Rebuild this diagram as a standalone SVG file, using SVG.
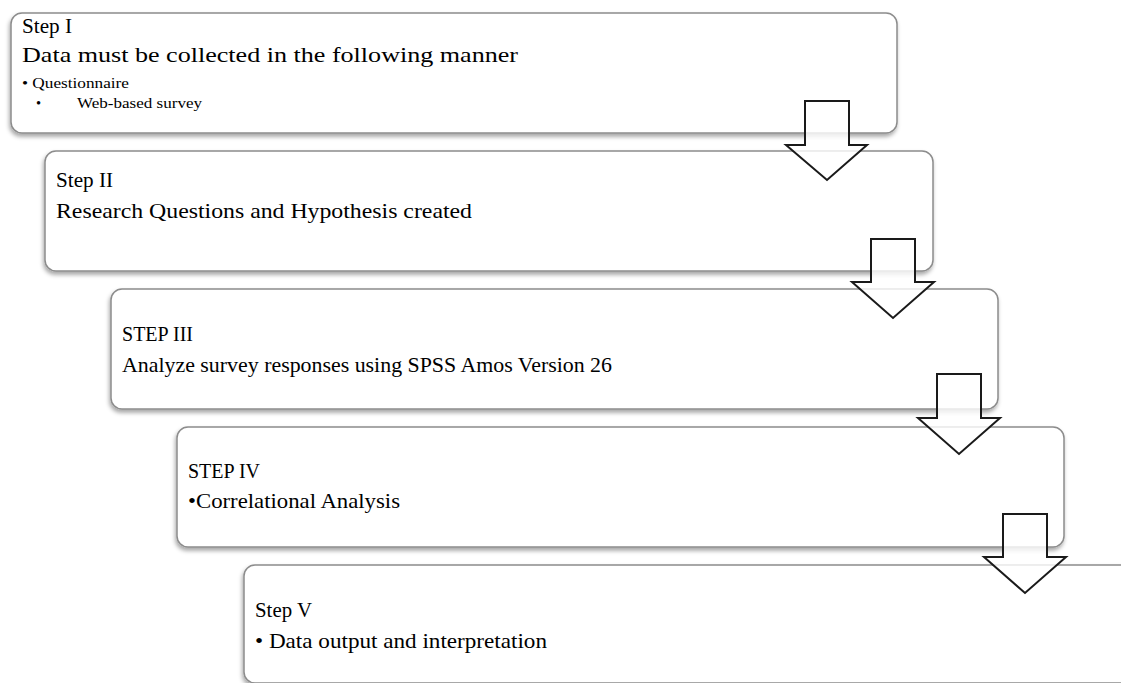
<svg xmlns="http://www.w3.org/2000/svg" width="1121" height="683" viewBox="0 0 1121 683">
<defs>
<filter id="sh" x="-5%" y="-10%" width="110%" height="125%">
<feDropShadow dx="-1" dy="3" stdDeviation="2" flood-color="#000" flood-opacity="0.35"/>
</filter>
<style>
.box{fill:#fff;stroke:#8c8c8c;stroke-width:1.5;filter:url(#sh)}
.arr{fill:#fff;fill-opacity:0.8;stroke:#1a1a1a;stroke-width:2}
text{font-family:"Liberation Serif","DejaVu Serif",serif;fill:#000}
.t{font-size:21.5px}
.s{font-size:14.5px}
</style>
</defs>
<rect width="1121" height="683" fill="#fff"/>
<g id="step1">
<rect class="box" x="11" y="13" width="886" height="120" rx="11"/>
<text class="t" x="22" y="33" textLength="50" lengthAdjust="spacingAndGlyphs">Step I</text>
<text class="t" x="22" y="62" textLength="496" lengthAdjust="spacingAndGlyphs">Data must be collected in the following manner</text>
<text class="s" x="22" y="88" textLength="107" lengthAdjust="spacingAndGlyphs">• Questionnaire</text>
<text class="s" x="36" y="108">•</text>
<text class="s" x="77" y="108" textLength="125" lengthAdjust="spacingAndGlyphs">Web-based survey</text>
</g>
<g id="step2">
<rect class="box" x="45" y="151" width="888" height="120" rx="11"/>
<text class="t" x="56" y="187" textLength="57" lengthAdjust="spacingAndGlyphs">Step II</text>
<text class="t" x="56" y="218" textLength="416" lengthAdjust="spacingAndGlyphs">Research Questions and Hypothesis created</text>
</g>
<g id="step3">
<rect class="box" x="111" y="289" width="887" height="120" rx="11"/>
<text class="t" x="122" y="341" textLength="71" lengthAdjust="spacingAndGlyphs">STEP III</text>
<text class="t" x="122" y="372" textLength="490" lengthAdjust="spacingAndGlyphs">Analyze survey responses using SPSS Amos Version 26</text>
</g>
<g id="step4">
<rect class="box" x="177" y="427" width="887" height="120" rx="11"/>
<text class="t" x="188" y="478" textLength="72" lengthAdjust="spacingAndGlyphs">STEP IV</text>
<text class="t" x="188" y="508" textLength="212" lengthAdjust="spacingAndGlyphs">•Correlational Analysis</text>
</g>
<g id="step5">
<rect class="box" x="244" y="565" width="900" height="118" rx="11"/>
<text class="t" x="255" y="617" textLength="57" lengthAdjust="spacingAndGlyphs">Step V</text>
<text class="t" x="255" y="648" textLength="292" lengthAdjust="spacingAndGlyphs">• Data output and interpretation</text>
</g>
<g id="connectors">
<path class="arr" d="M805 101 H849 V145 H867 L827 180 L786 145 H805 Z"/>
<path class="arr" d="M871 239 H915 V282 H934 L893 318 L852 282 H871 Z"/>
<path class="arr" d="M937 374 H981 V418 H1000 L959 454 L918 418 H937 Z"/>
<path class="arr" d="M1003 514 H1047 V557 H1066 L1025 593 L984 557 H1003 Z"/>
</g>
</svg>
